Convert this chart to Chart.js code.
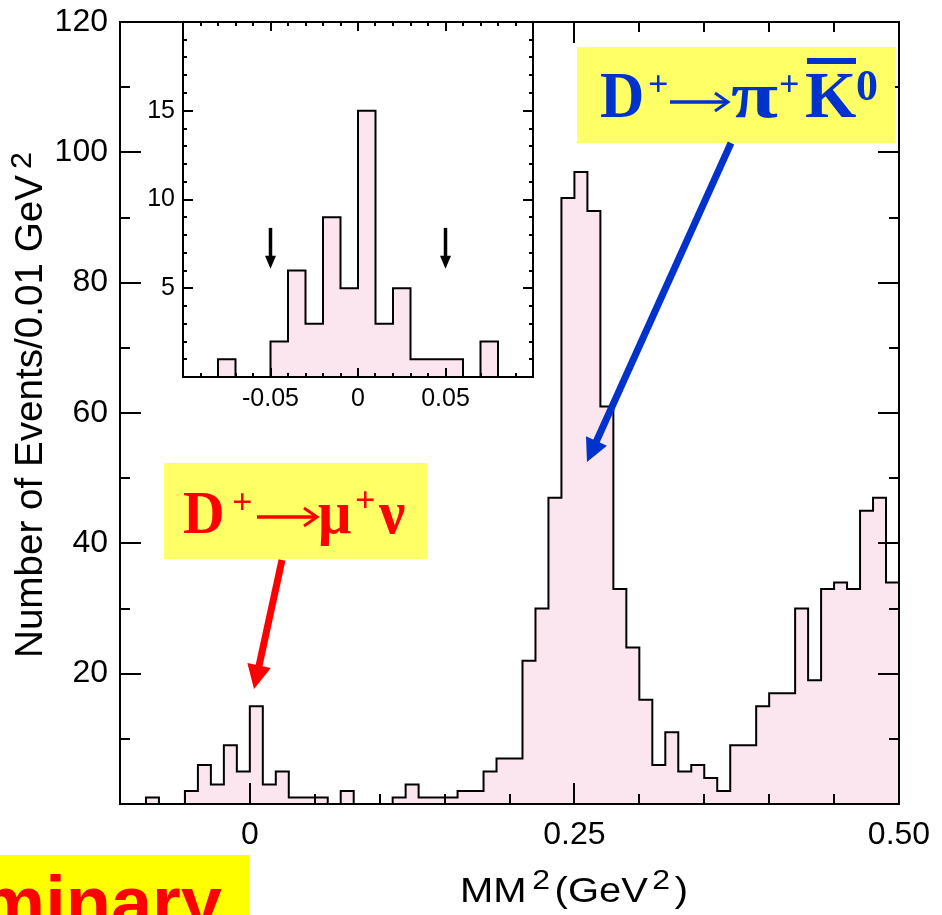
<!DOCTYPE html>
<html>
<head>
<meta charset="utf-8">
<script src="https://cdn.jsdelivr.net/npm/chart.js@4.4.1/dist/chart.umd.min.js"></script>
<style>
html,body{margin:0;padding:0;background:#fff;}
#wrap{position:relative;width:942px;height:915px;overflow:hidden;background:#fff;}
#main{position:absolute;left:0;top:0;}
#inset{position:absolute;left:130px;top:0;}
</style>
</head>
<body>
<div id="wrap">
<canvas id="main" width="942" height="915"></canvas>
<canvas id="inset" width="420" height="420"></canvas>
</div>
<script>
// ---- data (bins of 0.01 GeV^2, lower edges) ----
const binLow = [-0.10,-0.09,-0.08,-0.07,-0.06,-0.05,-0.04,-0.03,-0.02,-0.01,
                 0.00, 0.01, 0.02, 0.03, 0.04, 0.05, 0.06, 0.07, 0.08, 0.09,
                 0.10, 0.11, 0.12, 0.13, 0.14, 0.15, 0.16, 0.17, 0.18, 0.19,
                 0.20, 0.21, 0.22, 0.23, 0.24, 0.25, 0.26, 0.27, 0.28, 0.29,
                 0.30, 0.31, 0.32, 0.33, 0.34, 0.35, 0.36, 0.37, 0.38, 0.39,
                 0.40, 0.41, 0.42, 0.43, 0.44, 0.45, 0.46, 0.47, 0.48, 0.49];
const counts = [0,0,1,0,0,2,6,3,9,5,
                15,3,5,1,1,1,0,2,0,0,
                0,1,3,1,1,1,2,2,5,7,
                7,22,30,47,93,97,91,61,33,24,
                16,6,11,5,6,4,2,9,9,15,
                17,17,30,19,33,34,33,45,47,34];
const binWidth = 0.01;

const mainXTickVals = [0, 0.25, 0.5];
const mainXTickLabels = ['0', '0.25', '0.50'];
const mainYTickVals = [20, 40, 60, 80, 100, 120];
const mainYTickLabels = ['20', '40', '60', '80', '100', '120'];
const insetXTickVals = [-0.05, 0, 0.05];
const insetXTickLabels = ['-0.05', '0', '0.05'];
const insetYTickVals = [5, 10, 15];
const insetYTickLabels = ['5', '10', '15'];
const cutValues = [-0.05, 0.05];
const cutArrowFrom = 8.4, cutArrowTo = 6.1;

const FILL = 'rgb(251,229,238)';
const SANS = '"Liberation Sans", Arial, sans-serif';
const SERIF = '"Liberation Serif", "Times New Roman", serif';

function histPoints() {
  const pts = binLow.map((x, i) => ({x: x, y: counts[i]}));
  pts.push({x: binLow[binLow.length - 1] + binWidth, y: counts[counts.length - 1]});
  return pts;
}

function drawRich(ctx, runs, x, y, targetW) {
  let w = 0;
  for (const r of runs) { ctx.font = r.font; r.w = ctx.measureText(r.t).width + (r.gap || 0); w += r.w; }
  const s = targetW ? targetW / w : 1;
  ctx.save();
  ctx.translate(x, y);
  ctx.scale(s, 1);
  ctx.textAlign = 'left';
  ctx.textBaseline = 'alphabetic';
  let cx = 0;
  for (const r of runs) {
    ctx.font = r.font;
    ctx.fillText(r.t, cx + (r.gap || 0), -(r.rise || 0));
    cx += r.w;
  }
  ctx.restore();
}

// glyphs placed at given x positions, with individual horizontal scaling
function drawPlaced(ctx, items, baseline, color) {
  ctx.save();
  ctx.fillStyle = color; ctx.strokeStyle = color;
  ctx.textAlign = 'left'; ctx.textBaseline = 'alphabetic';
  for (const it of items) {
    if (it.arrow) {
      const [x1, x2, yy] = it.arrow;
      ctx.lineWidth = 3.5; ctx.lineCap = 'butt'; ctx.lineJoin = 'miter';
      ctx.beginPath(); ctx.moveTo(x1, yy); ctx.lineTo(x2 - 2, yy); ctx.stroke();
      ctx.lineWidth = 3;
      ctx.beginPath(); ctx.moveTo(x2 - 13, yy - 9); ctx.lineTo(x2, yy); ctx.lineTo(x2 - 13, yy + 9); ctx.stroke();
      continue;
    }
    ctx.save();
    ctx.translate(it.x, baseline - (it.rise || 0));
    ctx.scale(it.sx || 1, 1);
    ctx.font = it.font;
    ctx.fillText(it.t, 0, 0);
    ctx.restore();
    if (it.bar) ctx.fillRect(it.bar[0], it.bar[1], it.bar[2], it.bar[3]);
  }
  ctx.restore();
}

function drawArrow(ctx, x1, y1, x2, y2, width, headLen, headW, color) {
  const dx = x2 - x1, dy = y2 - y1, L = Math.hypot(dx, dy);
  const ux = dx / L, uy = dy / L, px = -uy, py = ux;
  const bx = x2 - ux * headLen, by = y2 - uy * headLen;
  ctx.save();
  ctx.strokeStyle = color; ctx.fillStyle = color;
  ctx.lineWidth = width; ctx.lineCap = 'butt';
  ctx.beginPath(); ctx.moveTo(x1, y1); ctx.lineTo(bx + ux, by + uy); ctx.stroke();
  ctx.beginPath();
  ctx.moveTo(x2, y2);
  ctx.lineTo(bx + px * headW / 2, by + py * headW / 2);
  ctx.lineTo(bx - px * headW / 2, by - py * headW / 2);
  ctx.closePath(); ctx.fill();
  ctx.restore();
}

function zeroPad(s) { s.paddingTop = 0; s.paddingBottom = 0; s.paddingLeft = 0; s.paddingRight = 0; }

function axisOpts(fontSize, padding) {
  return {
    grid: {display: false, drawTicks: false},
    border: {display: false},
    ticks: {color: '#000', font: {family: SANS, size: fontSize}, padding: padding, maxRotation: 0, minRotation: 0, autoSkip: false}
  };
}

// ---------------- main chart ----------------
const mainDecor = {
  id: 'mainDecor',
  afterDatasetsDraw(chart) {
    const {ctx, chartArea: a, scales: {x, y}} = chart;
    ctx.save();
    ctx.strokeStyle = '#000';
    ctx.lineWidth = 2;
    ctx.beginPath();
    for (let k = 1; k < 12; k++) {
      const v = k * 10;
      const py = Math.round(y.getPixelForValue(v));
      const len = (v % 20 === 0) ? 21 : 10;
      ctx.moveTo(a.left, py); ctx.lineTo(a.left + len, py);
      ctx.moveTo(a.right, py); ctx.lineTo(a.right - len, py);
    }
    for (let k = -1; k < 10; k++) {
      const v = k * 0.05;
      const px = Math.round(x.getPixelForValue(v));
      const major = mainXTickVals.some(t => Math.abs(t - v) < 1e-9);
      const len = major ? 21 : 10;
      ctx.moveTo(px, a.bottom); ctx.lineTo(px, a.bottom - len);
      ctx.moveTo(px, a.top); ctx.lineTo(px, a.top + len);
    }
    ctx.stroke();
    ctx.strokeRect(a.left, a.top, a.right - a.left, a.bottom - a.top);
    ctx.restore();
  },
  afterDraw(chart) {
    const ctx = chart.ctx;
    ctx.save();
    ctx.fillStyle = '#000';
    // y title (rotated)
    ctx.save();
    ctx.translate(42, 658);
    ctx.rotate(-Math.PI / 2);
    drawRich(ctx, [
      {t: 'Number of Events/0.01 GeV', font: '38px ' + SANS},
      {t: '2', font: '30px ' + SANS, rise: 11, gap: 6}
    ], 0, 0, 506);
    ctx.restore();
    // x title
    drawRich(ctx, [
      {t: 'MM', font: '35px ' + SANS},
      {t: '2', font: '28px ' + SANS, rise: 13, gap: 5},
      {t: '(GeV', font: '35px ' + SANS, gap: 4},
      {t: '2', font: '28px ' + SANS, rise: 13, gap: 4},
      {t: ')', font: '35px ' + SANS, gap: 4}
    ], 460, 902, 228);

    // blue annotation
    ctx.fillStyle = '#ffff66';
    ctx.fillRect(577, 47, 318, 96);
    drawPlaced(ctx, [
      {t: 'D', x: 600, font: 'bold 66px ' + SERIF, sx: 0.93},
      {t: '+', x: 648, font: 'bold 36px ' + SERIF, rise: 21},
      {arrow: [670, 728, 102]},
      {t: '\u03C0', x: 731, font: 'bold 66px ' + SERIF, sx: 1.3},
      {t: '+', x: 779, font: 'bold 36px ' + SERIF, rise: 21},
      {t: 'K', x: 805, font: 'bold 66px ' + SERIF, sx: 1.0, bar: [807, 58, 49, 6]},
      {t: '0', x: 856, font: 'bold 44px ' + SERIF, rise: 17}
    ], 117, '#0033cc');
    drawArrow(ctx, 731, 143, 587, 462, 7, 23, 23, '#0033cc');

    // red annotation
    ctx.fillStyle = '#ffff66';
    ctx.fillRect(164, 463, 263, 96);
    drawPlaced(ctx, [
      {t: 'D', x: 183, font: 'bold 62px ' + SERIF, sx: 0.93},
      {t: '+', x: 232, font: 'bold 36px ' + SERIF, rise: 19},
      {arrow: [257, 317, 517]},
      {t: '\u03BC', x: 318, font: 'bold 62px ' + SERIF, sx: 0.95},
      {t: '+', x: 355, font: 'bold 36px ' + SERIF, rise: 21},
      {t: '\u03BD', x: 379, font: 'bold 62px ' + SERIF, sx: 0.95}
    ], 533, '#ff0000');
    drawArrow(ctx, 282, 560, 254, 689, 7, 24, 24, '#ff0000');

    // preliminary label
    ctx.fillStyle = '#ffff00';
    ctx.fillRect(0, 855, 249, 60);
    ctx.fillStyle = '#ff0000';
    ctx.font = 'bold 74px ' + SANS;
    ctx.textAlign = 'right';
    ctx.textBaseline = 'alphabetic';
    ctx.fillText('Preliminary', 222, 928);
    ctx.restore();
  }
};

const xMain = Object.assign(axisOpts(32, 12), {
  type: 'linear', min: -0.1, max: 0.5,
  afterBuildTicks(s) { s.ticks = mainXTickVals.map(v => ({value: v})); },
  afterFit(s) { s.height = 111; zeroPad(s); }
});
xMain.ticks.callback = (v, i) => mainXTickLabels[i];
const yMain = Object.assign(axisOpts(32, 12), {
  type: 'linear', min: 0, max: 120,
  afterBuildTicks(s) { s.ticks = mainYTickVals.map(v => ({value: v})); },
  afterFit(s) { s.width = 120; zeroPad(s); }
});
yMain.ticks.callback = (v, i) => mainYTickLabels[i];

new Chart(document.getElementById('main'), {
  type: 'line',
  data: {datasets: [{
    data: histPoints(),
    stepped: true,
    borderColor: '#000', borderWidth: 2,
    backgroundColor: FILL, fill: 'origin',
    pointRadius: 0, borderJoinStyle: 'miter'
  }]},
  options: {
    responsive: false, animation: false, devicePixelRatio: 1,
    layout: {padding: {left: 0, right: 43, top: 22, bottom: 0}},
    plugins: {legend: {display: false}, tooltip: {enabled: false}},
    scales: {x: xMain, y: yMain}
  },
  plugins: [mainDecor]
});

// ---------------- inset chart ----------------
const insetDecor = {
  id: 'insetDecor',
  beforeDatasetsDraw(chart) {
    const {ctx, chartArea: a} = chart;
    ctx.save(); ctx.fillStyle = '#fff';
    ctx.fillRect(a.left, a.top, a.right - a.left, a.bottom - a.top);
    ctx.restore();
  },
  afterDatasetsDraw(chart) {
    const {ctx, chartArea: a, scales: {x, y}} = chart;
    ctx.save();
    ctx.strokeStyle = '#000'; ctx.lineWidth = 2;
    ctx.beginPath();
    for (let v = 1; v < 20; v++) {
      const py = Math.round(y.getPixelForValue(v));
      const len = (v % 5 === 0) ? 10 : 4;
      ctx.moveTo(a.left, py); ctx.lineTo(a.left + len, py);
      ctx.moveTo(a.right, py); ctx.lineTo(a.right - len, py);
    }
    for (let k = -9; k < 10; k++) {
      const v = k * 0.01;
      const px = Math.round(x.getPixelForValue(v));
      const len = (k % 5 === 0) ? 9 : 4;
      ctx.moveTo(px, a.bottom); ctx.lineTo(px, a.bottom - len);
      ctx.moveTo(px, a.top); ctx.lineTo(px, a.top + len);
    }
    ctx.stroke();
    ctx.strokeRect(a.left, a.top, a.right - a.left, a.bottom - a.top);
    ctx.restore();
    for (const c of cutValues) {
      const px = x.getPixelForValue(c);
      drawArrow(ctx, px, y.getPixelForValue(cutArrowFrom), px, y.getPixelForValue(cutArrowTo), 3.5, 13, 11, '#000');
    }
  }
};

const xIn = Object.assign(axisOpts(25, 7), {
  type: 'linear', min: -0.1, max: 0.1,
  afterBuildTicks(s) { s.ticks = insetXTickVals.map(v => ({value: v})); },
  afterFit(s) { s.height = 43; zeroPad(s); }
});
xIn.ticks.callback = (v, i) => insetXTickLabels[i];
const yIn = Object.assign(axisOpts(25, 8), {
  type: 'linear', min: 0, max: 20,
  afterBuildTicks(s) { s.ticks = insetYTickVals.map(v => ({value: v})); },
  afterFit(s) { s.width = 53; zeroPad(s); }
});
yIn.ticks.callback = (v, i) => insetYTickLabels[i];

new Chart(document.getElementById('inset'), {
  type: 'line',
  data: {datasets: [{
    data: histPoints(),
    stepped: true,
    borderColor: '#000', borderWidth: 2,
    backgroundColor: FILL, fill: 'origin',
    pointRadius: 0, borderJoinStyle: 'miter'
  }]},
  options: {
    responsive: false, animation: false, devicePixelRatio: 1,
    layout: {padding: {left: 0, right: 17, top: 22, bottom: 0}},
    plugins: {legend: {display: false}, tooltip: {enabled: false}},
    scales: {x: xIn, y: yIn}
  },
  plugins: [insetDecor]
});
</script>
</body>
</html>
